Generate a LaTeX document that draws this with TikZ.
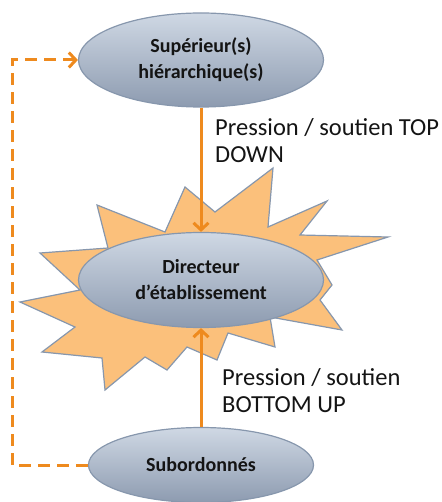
\documentclass[tikz,border=0pt]{standalone}
\usepackage{fontspec}
\setmainfont{Carlito}
\usetikzlibrary{arrows.meta,positioning,shapes.geometric,calc}
\definecolor{ink}{HTML}{141414}
\definecolor{orng}{HTML}{EE8A1E}
\definecolor{burst}{HTML}{FBC07B}
\definecolor{edge}{HTML}{8797AD}
\definecolor{ovtop}{HTML}{CFD8E4}
\definecolor{ovbot}{HTML}{8D9BB0}
\tikzset{
  actor/.style={ellipse,draw=edge,line width=1.2pt,top color=ovtop,bottom color=ovbot,text=ink,align=center,font=\fontsize{20}{26}\selectfont\bfseries,inner sep=0pt},
  flow/.style={-{Straight Barb[length=7pt,width=15pt]},line width=3pt,draw=orng},
  dflow/.style={-{Straight Barb[length=7pt,width=15pt]},line width=3pt,draw=orng,dash pattern=on 12pt off 7pt},
  lbl/.style={font=\fontsize{24.5}{27.5}\selectfont,text=ink,align=left,inner sep=0pt,anchor=north west}
}
\begin{document}
\begin{tikzpicture}[x=1pt,y=-1pt]
  \useasboundingbox (0,0) rectangle (441,502);
  % burst behind the director
  \filldraw[fill=burst,draw=edge,line width=1.2pt] (273,168) -- (268,227) -- (327,201) -- (300,235) -- (388,237)
    -- (317,260) -- (332,285) -- (320,300) -- (342,330) -- (270,317) -- (275,347) -- (228,333)
    -- (217,360) -- (187,347) -- (167,370) -- (145,357) -- (105,390) -- (102,358) -- (42,352)
    -- (75,327) -- (20,302) -- (80,290) -- (40,253) -- (108,248) -- (97,205) -- (165,232)
    -- (185,187) -- (215,212) -- cycle;
  \node[actor,minimum width=245pt,minimum height=94pt] (sup) at (201,60) {Supérieur(s)\\hiérarchique(s)};
  \node[actor,minimum width=245pt,minimum height=95pt] (dir) at (201,280) {Directeur\\d’établissement};
  \node[actor,minimum width=225pt,minimum height=75pt] (sub) at (201,465) {Subordonnés};
  \coordinate (loop) at (12,466);
  \draw[flow] (sup) -- (dir);
  \draw[flow] (sub) -- (dir);
  \draw[dflow] (sub.west) -- (sub.west -| loop) |- (sup.west);
  \node[lbl] (td) at (215,118) {Pression / soutien TOP\\DOWN};
  \node[lbl] (bu) at (222,368) {Pression / soutien\\BOTTOM UP};
\end{tikzpicture}
\end{document}
